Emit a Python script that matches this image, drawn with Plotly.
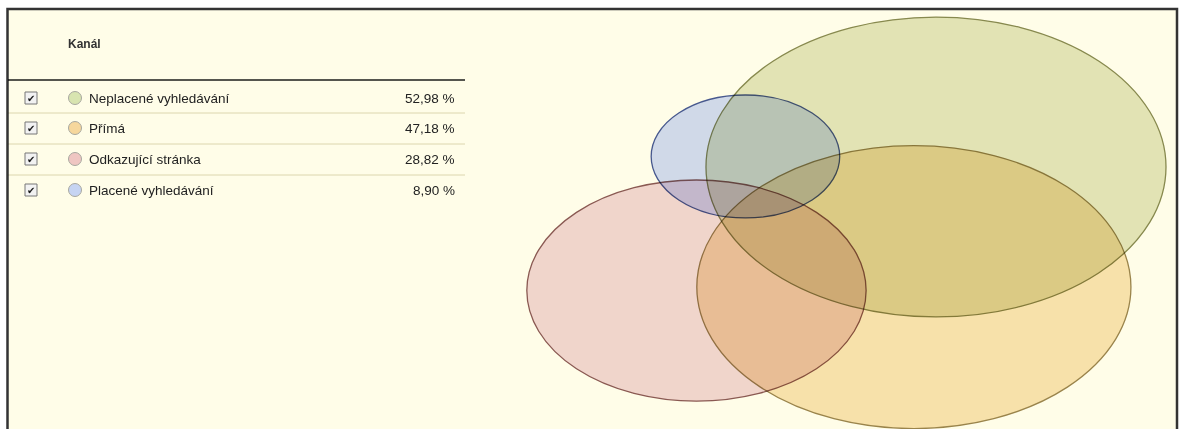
import math
import plotly.graph_objects as go

# Channel shares (percent of sessions)
channels = ["Neplacené vyhledávání", "Přímá", "Odkazující stránka", "Placené vyhledávání"]
shares = [52.98, 47.18, 28.82, 8.90]

# Venn layout: centre of each channel's region (layout units)
center_x = [29.62, 28.92, 22.04, 23.59]
center_y = [12.72, 6.89, 6.72, 13.23]

# Fill / outline / legend-dot colours per channel
fill_colors = ["#e2e5c6", "#f7e3bb", "#f0d7e0", "#d0dbff"]
line_colors = ["#878a55", "#9a8552", "#8a5a5a", "#47599c"]
dot_colors = ["#d8e4b0", "#f6d79c", "#efc6c2", "#c6d4f2"]

W, H = 1179, 429
SX, SY = 31.6, 20.6  # pixels per layout unit horizontally / vertically

CREAM = "#fffde8"
FONT = "Liberation Sans, Arial, sans-serif"


def px(x):
    return x / W


def py(y):
    return 1 - y / H


shapes = []
annotations = []

# Framed panel
shapes.append(dict(type="rect", xref="paper", yref="paper", layer="below",
                   x0=px(7.5), x1=px(1177), y0=py(9), y1=py(445),
                   fillcolor=CREAM, line=dict(color="#333333", width=2.5)))

# Table header
annotations.append(dict(xref="paper", yref="paper", x=px(66), y=py(44),
                        xanchor="left", yanchor="middle", showarrow=False,
                        text="<b>Kanál</b>",
                        font=dict(family=FONT, size=12, color="#333333")))
shapes.append(dict(type="line", xref="paper", yref="paper", layer="below",
                   x0=px(8), x1=px(465), y0=py(80), y1=py(80),
                   line=dict(color="#555555", width=2)))

row_y = [98, 128, 159, 190]
sep_y = [113, 144, 175]
for s in sep_y:
    shapes.append(dict(type="line", xref="paper", yref="paper", layer="below",
                       x0=px(8), x1=px(465), y0=py(s), y1=py(s),
                       line=dict(color="#dcd8c0", width=1)))

for name, val, dot, yy in zip(channels, shares, dot_colors, row_y):
    # checkbox
    shapes.append(dict(type="rect", xref="paper", yref="paper", layer="above",
                       x0=px(25), x1=px(37), y0=py(yy - 6), y1=py(yy + 6),
                       fillcolor="#f2f2f2", line=dict(color="#777777", width=1)))
    annotations.append(dict(xref="paper", yref="paper", x=px(31), y=py(yy),
                            xanchor="center", yanchor="middle", showarrow=False,
                            text="✔", font=dict(family="DejaVu Sans", size=10, color="#1a1a1a")))
    # colour dot
    shapes.append(dict(type="circle", xref="paper", yref="paper", layer="above",
                       x0=px(68.5), x1=px(81.5), y0=py(yy - 6.5), y1=py(yy + 6.5),
                       fillcolor=dot, line=dict(color="#a8a8a0", width=1)))
    annotations.append(dict(xref="paper", yref="paper", x=px(87), y=py(yy),
                            xanchor="left", yanchor="middle", showarrow=False,
                            text=name, font=dict(family=FONT, size=13.5, color="#222222")))
    annotations.append(dict(xref="paper", yref="paper", x=px(457), y=py(yy),
                            xanchor="right", yanchor="middle", showarrow=False,
                            text=f"{val:.2f}".replace(".", ",") + " %",
                            font=dict(family=FONT, size=13.5, color="#222222")))

# Venn regions: area proportional to share
for cx, cy, val, fc, lc in zip(center_x, center_y, shares, fill_colors, line_colors):
    r = math.sqrt(val)
    shapes.append(dict(type="circle", xref="x", yref="y", layer="below",
                       x0=cx - r, x1=cx + r, y0=cy - r, y1=cy + r,
                       fillcolor=fc, opacity=1,
                       line=dict(color=lc, width=1.3)))

fig = go.Figure()
fig.update_layout(
    width=W, height=H,
    margin=dict(l=0, r=0, t=0, b=0),
    paper_bgcolor="white",
    plot_bgcolor="rgba(0,0,0,0)",
    xaxis=dict(range=[0, W / SX], visible=False, fixedrange=True),
    yaxis=dict(range=[0, H / SY], visible=False, fixedrange=True),
    shapes=shapes,
    annotations=annotations,
    showlegend=False,
)

# overlapping regions darken each other (multiply blending);
# clip groups would isolate the blend, so they are switched off
blend = (
    "var st=document.createElement('style');"
    "st.textContent='.main-svg g, .main-svg path{clip-path:none !important;isolation:auto !important;}"
    " .layer-below .shapelayer path, .subplot .shapelayer path{mix-blend-mode:multiply;}';"
    "document.head.appendChild(st);"
)

fig.write_html("out.html", config={"displayModeBar": False}, post_script=blend)
